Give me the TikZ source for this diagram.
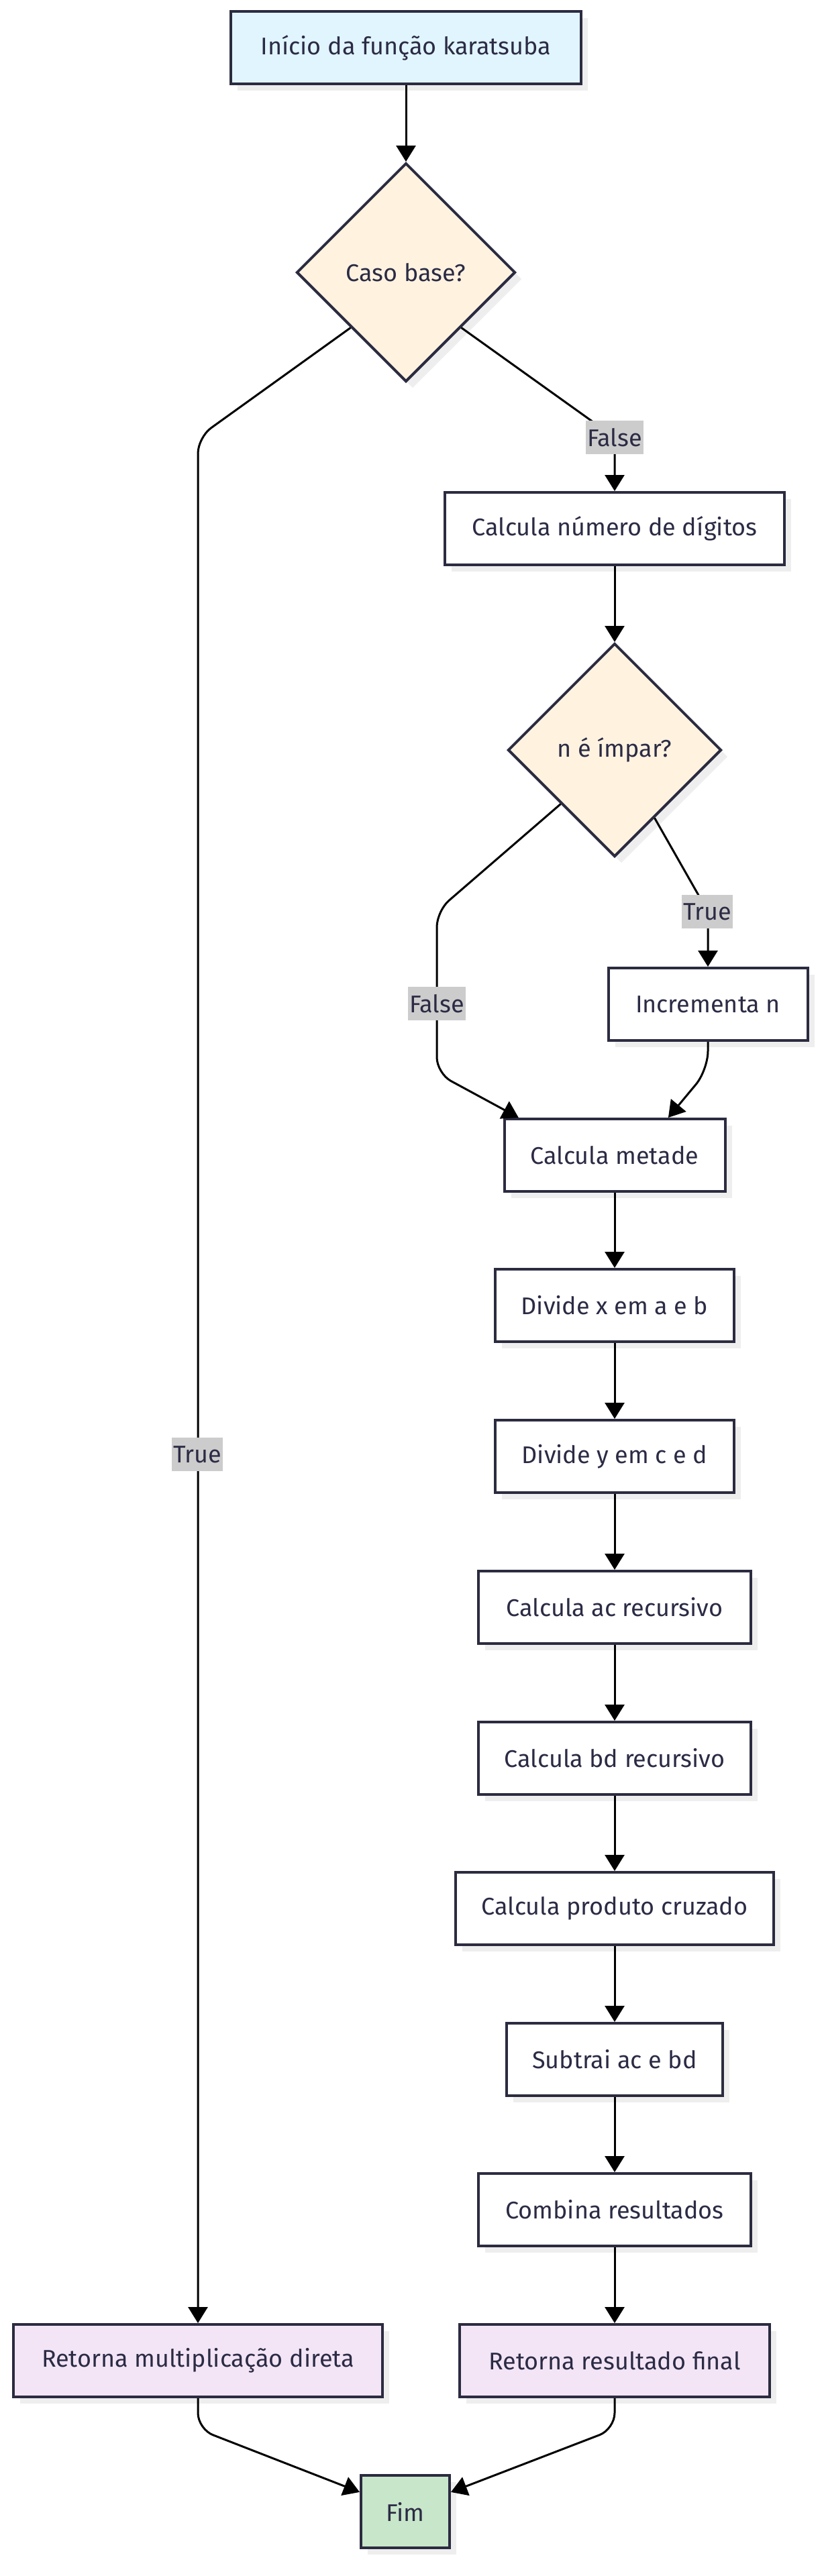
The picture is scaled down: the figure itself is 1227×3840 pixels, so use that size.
\documentclass[tikz,border=0pt]{standalone}
\usepackage{fontspec}
\setmainfont{Fira Sans}
\usetikzlibrary{shapes.geometric,arrows.meta,calc,shadows}
\definecolor{txt}{HTML}{2B2B45}
\definecolor{strk}{HTML}{2B2B40}
\definecolor{startfill}{HTML}{E1F5FE}
\definecolor{decfill}{HTML}{FFF3E0}
\definecolor{retfill}{HTML}{F3E5F5}
\definecolor{endfill}{HTML}{C8E6C9}
\definecolor{lblfill}{HTML}{CCCCCC}
\definecolor{shadowc}{HTML}{EEEEEE}
\tikzset{
  base/.style={draw=strk, line width=2pt, text=txt, font=\fontsize{18pt}{21.6pt}\selectfont,
    drop shadow={shadow xshift=5pt, shadow yshift=-5pt, fill=shadowc, opacity=1}},
  procbox/.style={base, rectangle, fill=white, minimum height=54pt, inner sep=2pt},
  startbox/.style={procbox, fill=startfill},
  retbox/.style={procbox, fill=retfill},
  endbox/.style={procbox, fill=endfill},
  decbox/.style={base, diamond, aspect=1, fill=decfill, inner sep=0pt},
  edge/.style={draw=black, line width=1.5pt, -{Triangle[length=12pt,width=14.5pt]}},
  lbl/.style={fill=lblfill, text=txt, font=\fontsize{18pt}{21.6pt}\selectfont, inner xsep=1pt, inner ysep=0pt, minimum height=25pt}
}
\begin{document}
\begin{tikzpicture}[x=0.5pt,y=-0.5pt]
\useasboundingbox (0,0) rectangle (1227,3840);
% nodes
\node[startbox, minimum width=261pt] (start) at (605,71) {Início da função karatsuba};
\node[decbox, minimum width=163pt, minimum height=163pt] (cb) at (605,406) {Caso base?};
\node[procbox, minimum width=253pt] (cnd) at (916,788) {Calcula número de dígitos};
\node[decbox, minimum width=159pt, minimum height=159pt] (nim) at (916,1118) {n é ímpar?};
\node[procbox, minimum width=148.5pt] (incr) at (1055,1497) {Incrementa n};
\node[procbox, minimum width=164.5pt] (cm) at (916,1722) {Calcula metade};
\node[procbox, minimum width=178pt] (dx) at (916,1946) {Divide x em a e b};
\node[procbox, minimum width=178pt] (dy) at (916,2171) {Divide y em c e d};
\node[procbox, minimum width=203pt] (ac) at (916,2396) {Calcula ac recursivo};
\node[procbox, minimum width=203pt] (bd) at (916,2621) {Calcula bd recursivo};
\node[procbox, minimum width=237pt] (pc) at (916,2845) {Calcula produto cruzado};
\node[procbox, minimum width=161pt] (sub) at (916,3070) {Subtrai ac e bd};
\node[procbox, minimum width=203pt] (comb) at (916,3294) {Combina resultados};
\node[retbox, minimum width=275pt] (rdir) at (295,3519) {Retorna multiplicação direta};
\node[retbox, minimum width=231pt] (rrf) at (916,3519) {Retorna resultado final};
\node[endbox, minimum width=66pt] (fim) at (604,3744) {Fim};
% helper coordinates
\coordinate (cbL) at (295,652);
\coordinate (cbR) at (916,652);
\coordinate (nimT) at ($(nim.east)!0.63!(nim.south)$);
\coordinate (nimTc) at (1055,1359);
\coordinate (nimF1) at (651,1358);
\coordinate (nimF2) at (651,1600);
\coordinate (cmL) at ($(cm.north west)!0.07!(cm.north east)$);
\coordinate (incrB) at (1055,1595);
\coordinate (cmR) at ($(cm.north west)!0.74!(cm.north east)$);
\coordinate (rdirB) at (295,3621);
\coordinate (rrfB) at (916,3621);
\coordinate (fimL) at ($(fim.north west)!0.24!(fim.south west)$);
\coordinate (fimR) at ($(fim.north east)!0.24!(fim.south east)$);
% edges
\draw[edge] (start.south) -- (cb.north);
\draw[edge, rounded corners=12pt] (cb.south west) -- (cbL) -- (rdir.north);
\draw[edge, rounded corners=8pt] (cb.south east) -- (cbR) -- (cnd.north);
\draw[edge] (cnd.south) -- (nim.north);
\draw[edge, rounded corners=8pt] (nimT) -- (nimTc) -- (incr.north);
\draw[edge, rounded corners=12pt] (nim.south west) -- (nimF1) -- (nimF2) -- (cmL);
\draw[edge, rounded corners=14pt] (incr.south) -- (incrB) -- (cmR);
\draw[edge] (cm.south) -- (dx.north);
\draw[edge] (dx.south) -- (dy.north);
\draw[edge] (dy.south) -- (ac.north);
\draw[edge] (ac.south) -- (bd.north);
\draw[edge] (bd.south) -- (pc.north);
\draw[edge] (pc.south) -- (sub.north);
\draw[edge] (sub.south) -- (comb.north);
\draw[edge] (comb.south) -- (rrf.north);
\draw[edge, rounded corners=12pt] (rdir.south) -- (rdirB) -- (fimL);
\draw[edge, rounded corners=12pt] (rrf.south) -- (rrfB) -- (fimR);
% labels
\node[lbl] (lTrue1) at (294,2168) {True};
\node[lbl] (lFalse1) at (916,652) {False};
\node[lbl] (lTrue2) at (1054,1359) {True};
\node[lbl] (lFalse2) at (651,1496) {False};
\end{tikzpicture}
\end{document}
